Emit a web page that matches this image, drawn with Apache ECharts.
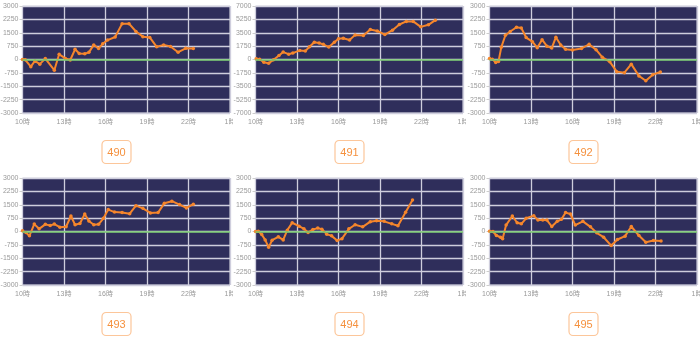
<!DOCTYPE html>
<html><head><meta charset="utf-8">
<script src="https://cdn.jsdelivr.net/npm/echarts@6/dist/echarts.min.js"></script>
<style>
html,body{margin:0;padding:0;background:#fff;width:700px;height:344px;overflow:hidden;position:relative}
.c{position:absolute;overflow:hidden;width:233.33px;height:172px}
</style>
</head><body>
<script>
const machines = ['490','491','492','493','494','495'];
const yLimits = [3000, 7000, 3000, 3000, 3000, 3000];
const startHour = 10;
const endHour = 25;
const hourStep = 3;

const t490 = [10.0,10.2,10.6,10.9,11.25,11.65,12.3,12.65,13.1,13.45,13.8,14.1,14.5,14.8,15.15,15.5,15.8,16.15,16.7,17.2,17.7,18.2,18.7,19.2,19.7,20.2,20.7,21.25,21.8,22.35];
const v490 = [0,-20,-400,-80,-260,50,-600,290,60,-30,570,340,320,400,820,620,880,1090,1260,2010,2010,1570,1280,1240,710,820,730,410,630,620];

const t491 = [10.05,10.3,10.6,10.95,11.3,11.7,12.0,12.4,12.7,13.2,13.6,13.9,14.25,14.6,14.9,15.3,15.7,16.0,16.35,16.8,17.2,17.8,18.3,18.8,19.35,19.9,20.4,20.9,21.4,21.95,22.5,23.0];
const v491 = [90,40,-350,-480,-40,530,970,700,840,1190,1100,1670,2250,2160,1980,1630,2250,2730,2770,2550,3220,3130,3920,3740,3260,3830,4580,4980,4980,4270,4540,5150];

const t492 = [10.0,10.2,10.45,10.65,10.85,11.15,11.5,11.95,12.3,12.65,13.1,13.45,13.8,14.15,14.5,14.8,15.15,15.5,16.0,16.65,17.2,17.7,18.15,18.7,19.2,19.75,20.25,20.8,21.3,21.8,22.35];
const v492 = [60,20,-170,-110,680,1360,1570,1810,1770,1230,1000,660,1110,750,640,1250,810,580,530,620,850,550,130,-130,-680,-740,-260,-920,-1190,-850,-700];

const t493 = [10.0,10.25,10.5,10.85,11.2,11.65,12.0,12.3,12.7,13.15,13.5,13.8,14.15,14.5,14.8,15.15,15.5,15.85,16.2,16.65,17.2,17.75,18.2,18.7,19.25,19.8,20.25,20.8,21.35,21.85,22.35];
const v493 = [40,-60,-245,415,150,400,340,415,245,265,870,380,450,980,590,380,400,740,1230,1090,1070,1000,1450,1300,1040,1060,1580,1700,1510,1320,1530];

const t494 = [10.0,10.2,10.45,10.7,10.95,11.2,11.65,12.0,12.3,12.65,13.15,13.5,13.8,14.15,14.5,14.8,15.15,15.5,15.9,16.25,16.75,17.2,17.75,18.3,18.75,19.3,19.85,20.3,20.85,21.35];
const v494 = [0,20,-170,-470,-890,-490,-300,-470,75,490,300,150,-55,115,190,130,-150,-245,-510,-400,150,380,260,550,600,570,430,320,1075,1770];

const t495 = [10.0,10.25,10.5,10.8,10.95,11.2,11.65,12.0,12.3,12.65,13.2,13.5,13.85,14.15,14.5,14.9,15.2,15.5,15.85,16.2,16.75,17.3,17.75,18.25,18.8,19.25,19.8,20.25,20.8,21.3,21.85,22.4];
const v495 = [20,0,-225,-320,-400,360,870,490,430,740,890,640,640,640,280,570,680,1060,980,360,570,260,-75,-320,-790,-450,-260,280,-225,-600,-510,-530];

const times = [t490, t491, t492, t493, t494, t495];
const values = [v490, v491, v492, v493, v494, v495];

const FONT = "'Liberation Sans','Noto Sans CJK JP',sans-serif";
const ORANGE = '#f5862c';

function build(i) {
  const lim = yLimits[i];
  const data = times[i].map((t, k) => [t - startHour, values[i][k]]);
  return {
    animation: false,
    title: {
      text: machines[i], left: 'center', top: 140,
      padding: [7, 6, 6, 6],
      borderColor: '#fcc69a', borderWidth: 1.2, borderRadius: 4,
      textStyle: {color: '#f5913e', fontSize: 11, fontWeight: 'normal', fontFamily: FONT}
    },
    grid: {left: 22.5, top: 6, width: 207.5, height: 107, show: true,
      outerBoundsMode: 'none', containLabel: false,
      backgroundColor: '#2f2e5b', borderColor: '#d9d9e3', borderWidth: 1},
    xAxis: {
      type: 'value', min: 0, max: endHour - startHour, interval: hourStep,
      axisLine: {show: true, lineStyle: {color: '#dddddd'}},
      axisTick: {show: false},
      splitLine: {show: true, lineStyle: {color: '#cfcedd', width: 1.3}},
      axisLabel: {color: '#999', fontSize: 7, margin: 6, fontFamily: FONT,
        showMinLabel: true, showMaxLabel: true,
        formatter: v => ((v + startHour) % 24) + '時'}
    },
    yAxis: {
      type: 'value', min: -lim, max: lim, interval: lim / 4,
      axisLine: {show: false},
      axisTick: {show: true, length: 3, lineStyle: {color: '#cccccc'}},
      axisLabel: {color: '#999', fontSize: 7, margin: 4, fontFamily: FONT, formatter: v => String(v)},
      splitLine: {show: true, lineStyle: {color: '#cfcedd', width: 1.3}}
    },
    series: [{
      type: 'line', data: data,
      symbol: 'circle', symbolSize: 3.5, showSymbol: true, showAllSymbol: true,
      itemStyle: {color: ORANGE}, lineStyle: {color: ORANGE, width: 2},
      markLine: {
        silent: true, symbol: ['none', 'none'], label: {show: false},
        lineStyle: {color: '#74c96c', width: 1.5, type: 'solid'},
        data: [{yAxis: 0}]
      }
    }]
  };
}

for (let i = 0; i < 6; i++) {
  const d = document.createElement('div');
  d.className = 'c';
  d.style.left = (i % 3) * (700 / 3) + 'px';
  d.style.top = Math.floor(i / 3) * 172 + 'px';
  document.body.appendChild(d);
  const ch = echarts.init(d, null, {renderer: 'canvas'});
  ch.setOption(build(i));
}
</script>
</body></html>
